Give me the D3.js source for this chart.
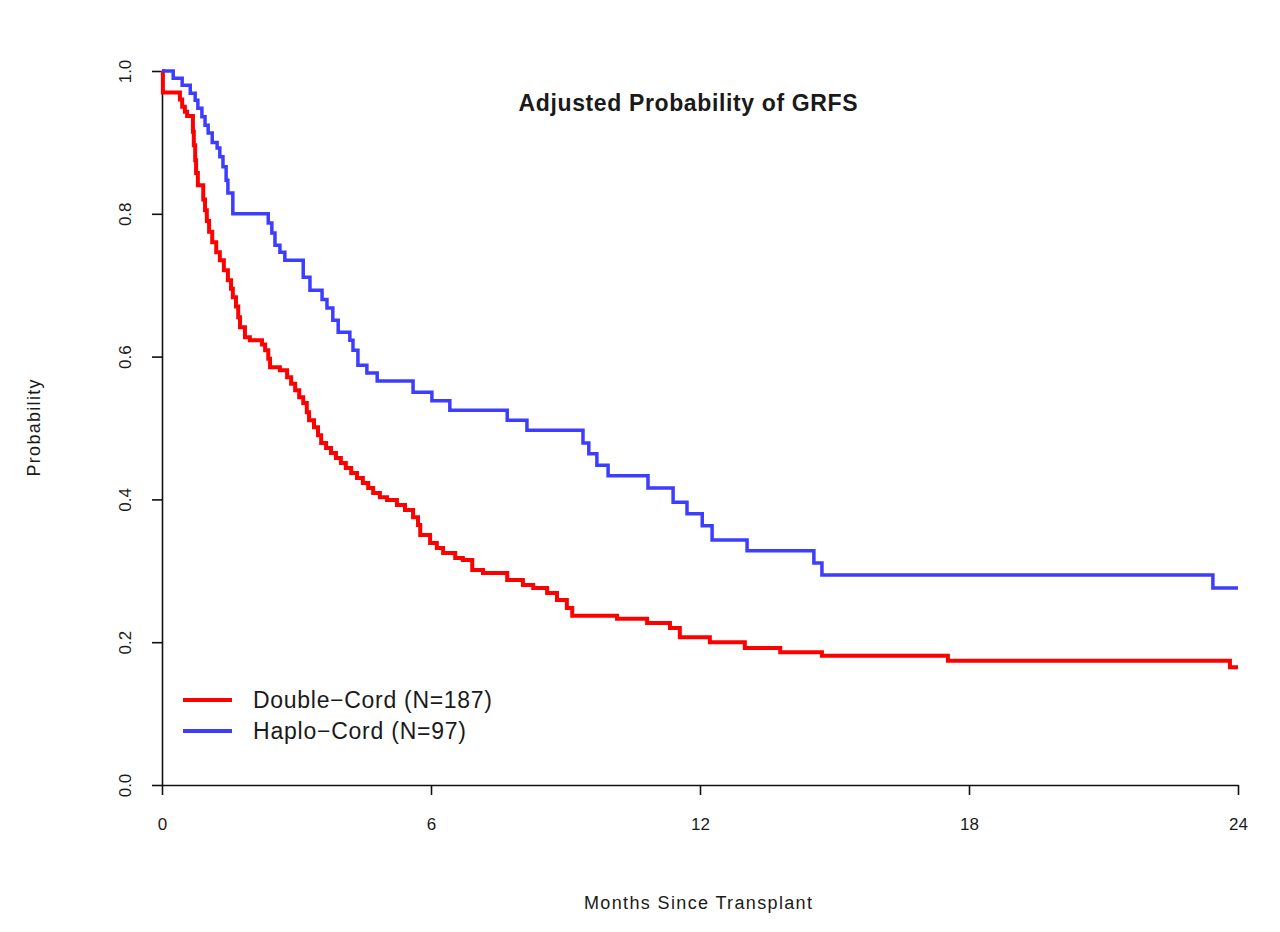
<!DOCTYPE html>
<html lang="en">

<head>
  <meta charset="utf-8">
  <title>Adjusted Probability of GRFS</title>
  <script src="https://d3js.org/d3.v7.min.js"></script>
</head>

<body style="margin:0;background:#fff">
  <div id="chart"></div>

  <style>
    #chart text {
      font-family: "Liberation Sans", Arial, sans-serif;
      fill: #1a1a1a;
    }
  </style>

  <script type="text/javascript">
    "use strict"

    // months since transplant where the curve steps, and the probability after the step
    var doubleTimes = [0, 0.02, 0.40, 0.45, 0.51, 0.56, 0.69, 0.71, 0.74, 0.76, 0.80, 0.92, 0.96, 1.00, 1.05, 1.12,
      1.21, 1.29, 1.38, 1.47, 1.54, 1.58, 1.65, 1.70, 1.74, 1.85, 1.96, 2.23, 2.30, 2.37, 2.41, 2.63, 2.79, 2.88,
      2.97, 3.06, 3.15, 3.23, 3.28, 3.39, 3.48, 3.55, 3.66, 3.77, 3.88, 3.99, 4.10, 4.22, 4.35, 4.48, 4.60, 4.71,
      4.86, 5.02, 5.24, 5.42, 5.60, 5.71, 5.76, 5.98, 6.13, 6.27, 6.54, 6.71, 6.92, 7.16, 7.70, 8.05, 8.28, 8.59,
      8.81, 9.03, 9.15, 10.15, 10.82, 11.33, 11.55, 12.22, 13.00, 13.79, 14.72, 17.53, 23.82, 24];
    var doubleSurv = [1.0, 0.970, 0.960, 0.950, 0.943, 0.937, 0.915, 0.896, 0.875, 0.857, 0.840, 0.820, 0.805, 0.790,
      0.775, 0.760, 0.746, 0.735, 0.721, 0.707, 0.695, 0.683, 0.670, 0.655, 0.641, 0.627, 0.623, 0.617, 0.609, 0.597,
      0.585, 0.581, 0.571, 0.562, 0.553, 0.543, 0.535, 0.522, 0.511, 0.501, 0.490, 0.479, 0.472, 0.465, 0.458, 0.451,
      0.444, 0.437, 0.430, 0.423, 0.416, 0.409, 0.403, 0.399, 0.392, 0.385, 0.375, 0.364, 0.350, 0.339, 0.332, 0.325,
      0.318, 0.315, 0.301, 0.297, 0.287, 0.280, 0.276, 0.269, 0.259, 0.248, 0.237, 0.233, 0.227, 0.220, 0.207, 0.200,
      0.192, 0.186, 0.181, 0.174, 0.165, 0.165];

    var haploTimes = [0, 0.25, 0.45, 0.63, 0.74, 0.80, 0.89, 0.96, 1.03, 1.12, 1.23, 1.29, 1.36, 1.43, 1.47, 1.58,
      2.37, 2.45, 2.52, 2.63, 2.74, 3.15, 3.30, 3.57, 3.68, 3.81, 3.93, 4.19, 4.26, 4.37, 4.57, 4.80, 5.60, 6.02,
      6.42, 7.70, 8.14, 9.39, 9.52, 9.70, 9.95, 10.84, 11.40, 11.71, 12.05, 12.27, 13.05, 14.54, 14.72, 23.44, 24];
    var haploSurv = [1.0, 0.990, 0.980, 0.969, 0.959, 0.948, 0.936, 0.924, 0.913, 0.900, 0.892, 0.880, 0.866, 0.847,
      0.829, 0.800, 0.787, 0.773, 0.756, 0.746, 0.735, 0.711, 0.693, 0.680, 0.668, 0.651, 0.634, 0.623, 0.609, 0.588,
      0.577, 0.566, 0.550, 0.538, 0.525, 0.511, 0.497, 0.479, 0.464, 0.448, 0.433, 0.416, 0.396, 0.380, 0.363, 0.343,
      0.328, 0.311, 0.294, 0.276, 0.276];

    var seriesNames = ["Double\u2212Cord (N=187)", "Haplo\u2212Cord (N=97)"];
    var seriesColors = ["#ff0000", "#3d3dff"];
    var xTicks = [0, 6, 12, 18, 24];
    var yTicks = [0, 0.2, 0.4, 0.6, 0.8, 1.0];

    function desenha() {
      var larguraSVG = 1280, alturaSVG = 932;
      var margin = {top: 71, right: 42, bottom: 147, left: 162},
          larguraVis = larguraSVG - margin.left - margin.right,
          alturaVis = alturaSVG - margin.top - margin.bottom;

      var svg = d3.select('#chart')
        .append('svg')
          .attr('width', larguraSVG)
          .attr('height', alturaSVG);

      var grafico = svg.append('g')
          .attr('transform', 'translate(' + margin.left + ',' + margin.top + ')');

      var x = d3.scaleLinear().domain([0, 24]).range([0, larguraVis]);
      var y = d3.scaleLinear().domain([0, 1]).range([alturaVis, 0]);

      var linha = d3.line()
        .x(d => x(d[0]))
        .y(d => y(d[1]))
        .curve(d3.curveStepAfter);

      var series = [
        {pts: d3.zip(doubleTimes, doubleSurv), cor: seriesColors[0], w: 4},
        {pts: d3.zip(haploTimes, haploSurv), cor: seriesColors[1], w: 3.5}
      ];

      // eixo y
      var eixoY = grafico.append('g')
        .call(d3.axisLeft(y).tickValues(yTicks).tickFormat(d3.format('.1f')).tickSize(10).tickSizeOuter(0));
      eixoY.select('.domain').attr('stroke', '#111').attr('stroke-width', 1.6);
      eixoY.selectAll('line').attr('stroke', '#111').attr('stroke-width', 1.6);
      eixoY.selectAll('text')
        .attr('transform', 'rotate(-90)')
        .attr('x', 0).attr('y', -37).attr('dy', '0.35em')
        .attr('text-anchor', 'middle')
        .style('font-size', '17px');

      // eixo x
      var eixoX = grafico.append('g')
        .attr('transform', 'translate(0,' + alturaVis + ')')
        .call(d3.axisBottom(x).tickValues(xTicks).tickSize(10).tickSizeOuter(0));
      eixoX.select('.domain').attr('stroke', '#111').attr('stroke-width', 1.6);
      eixoX.selectAll('line').attr('stroke', '#111').attr('stroke-width', 1.6);
      eixoX.selectAll('text')
        .attr('y', 33).attr('dy', '0.71em')
        .style('font-size', '17px');

      grafico.selectAll('path.curva')
        .data(series)
        .enter()
        .append('path')
          .attr('class', 'curva')
          .attr('d', d => linha(d.pts))
          .attr('fill', 'none')
          .attr('stroke', d => d.cor)
          .attr('stroke-width', d => d.w);

      // titulo
      svg.append('text')
        .attr('x', 688).attr('y', 103).attr('dy', '0.35em')
        .attr('text-anchor', 'middle')
        .attr('textLength', 339)
        .style('font-size', '23px').style('font-weight', 'bold')
        .text('Adjusted Probability of GRFS');

      svg.append('text')
        .attr('x', 698).attr('y', 903).attr('dy', '0.35em')
        .attr('text-anchor', 'middle')
        .attr('textLength', 228)
        .style('font-size', '18px')
        .text('Months Since Transplant');

      svg.append('text')
        .attr('transform', 'translate(34,428) rotate(-90)')
        .attr('dy', '0.35em')
        .attr('text-anchor', 'middle')
        .attr('textLength', 97)
        .style('font-size', '18px')
        .text('Probability');

      // legenda
      var legLens = [239, 213];
      var leg = svg.append('g').selectAll('g')
        .data(seriesNames)
        .enter()
        .append('g')
          .attr('transform', (d, i) => 'translate(183,' + (700 + i * 31) + ')');
      leg.append('line')
        .attr('x1', 0).attr('x2', 49)
        .attr('stroke', (d, i) => seriesColors[i])
        .attr('stroke-width', 4);
      leg.append('text')
        .attr('x', 70).attr('dy', '0.35em')
        .attr('textLength', (d, i) => legLens[i])
        .style('font-size', '23px')
        .text(d => d);
    }

    desenha();
  </script>
</body>

</html>
